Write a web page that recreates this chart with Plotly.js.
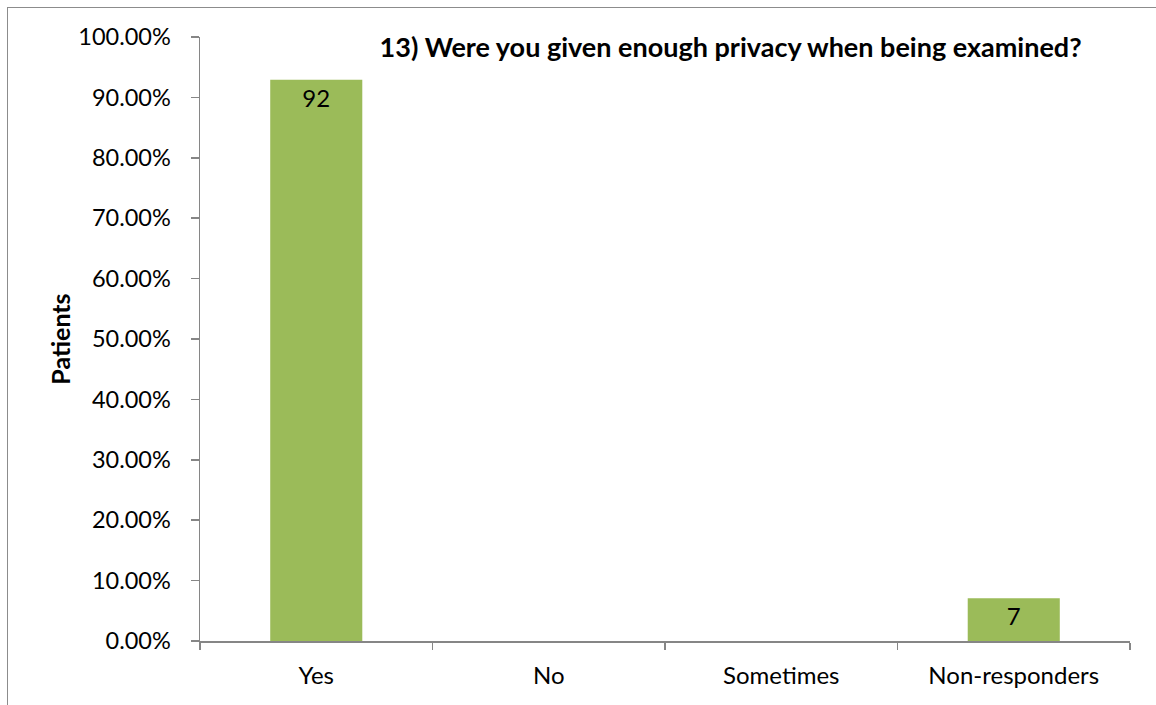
<!DOCTYPE html>
<html>
<head>
<meta charset="utf-8">
<script src="https://cdn.plot.ly/plotly-3.0.1.min.js"></script>
<style>
html,body{margin:0;padding:0;background:#fff;}
#wrap{position:relative;width:1156px;height:705px;overflow:hidden;}
#chart{position:absolute;left:0;top:0;width:1156px;height:705px;}
#frame{position:absolute;left:7px;top:7px;width:1200px;height:800px;border-left:1.5px solid #8c8c8c;border-top:1.5px solid #8c8c8c;pointer-events:none;}
</style>
</head>
<body>
<div id="wrap"><div id="chart"></div><div id="frame"></div></div>
<script>
const categories = ["Yes", "No", "Sometimes", "Non-responders"];
const counts = [92, 0, 0, 7];
const percents = [0.9293, 0, 0, 0.0707];
const yTickVals = [0, 0.1, 0.2, 0.3, 0.4, 0.5, 0.6, 0.7, 0.8, 0.9, 1.0];
const titleText = "13) Were you given enough privacy when being examined?";
const yTitle = "Patients";

const FONT = "Lato, 'Open Sans', 'Liberation Sans', sans-serif";

const trace = {
  type: "bar",
  x: categories,
  y: percents,
  text: counts.map(c => c > 0 ? String(c) : ""),
  textposition: "inside",
  insidetextanchor: "end",
  textfont: {family: FONT, size: 24, color: "#000"},
  textangle: 0,
  marker: {color: "#9bbb59", line: {width: 0}},
  hoverinfo: "none",
  cliponaxis: false
};

const layout = {
  width: 1156,
  height: 705,
  paper_bgcolor: "#fff",
  plot_bgcolor: "#fff",
  margin: {l: 200, r: 26, t: 37, b: 64},
  bargap: 0.604,
  showlegend: false,
  font: {family: FONT, size: 24, color: "#000"},
  title: {
    text: "<b>" + titleText + "</b>",
    font: {family: FONT, size: 27, color: "#000"},
    xref: "container", x: 0.632, xanchor: "center",
    yref: "container", y: 0.932, yanchor: "middle"
  },
  xaxis: {
    type: "category",
    showgrid: false,
    zeroline: false,
    showline: true,
    linecolor: "#868686",
    linewidth: 1.5,
    ticks: "outside",
    tickson: "boundaries",
    ticklen: 7,
    tickcolor: "#868686",
    tickwidth: 1.5,
    tickfont: {family: FONT, size: 24, color: "#000"},
    ticklabelstandoff: 13
  },
  yaxis: {
    range: [0, 1],
    tickvals: yTickVals,
    tickformat: ".2%",
    showgrid: false,
    zeroline: false,
    showline: true,
    linecolor: "#868686",
    linewidth: 1.5,
    ticks: "outside",
    ticklen: 8,
    tickcolor: "#868686",
    tickwidth: 1.5,
    tickfont: {family: FONT, size: 23.5, color: "#000"},
    ticklabelstandoff: 15,
    title: {
      text: "<b>" + yTitle + "</b>",
      font: {family: FONT, size: 25, color: "#000"},
      standoff: 0
    }
  }
};

Plotly.newPlot("chart", [trace], layout, {staticPlot: true, displayModeBar: false});
</script>
</body>
</html>
